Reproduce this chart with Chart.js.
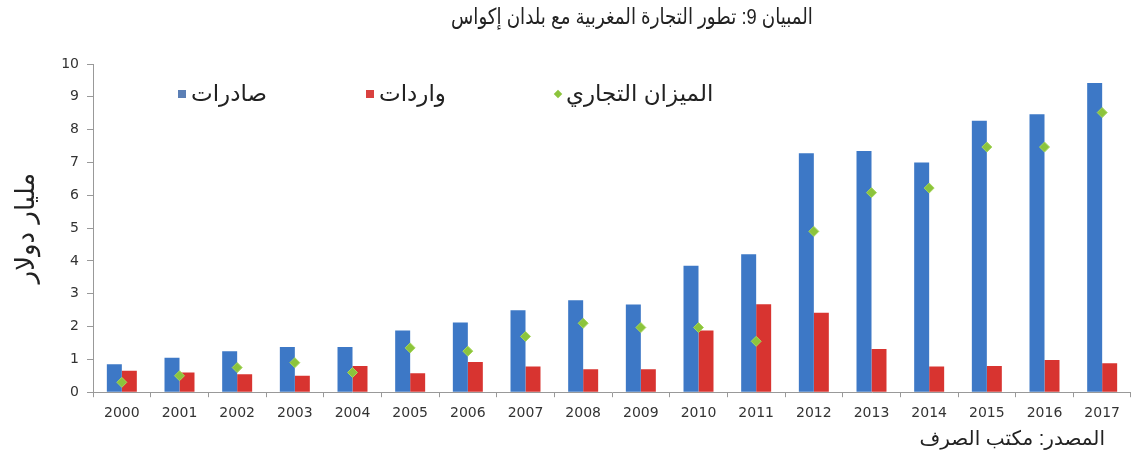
<!DOCTYPE html>
<html lang="ar">
<head>
<meta charset="utf-8">
<script src="https://cdn.jsdelivr.net/npm/chart.js@4.4.0/dist/chart.umd.min.js"></script>
<style>
  html, body { margin: 0; padding: 0; background: #fff; overflow: hidden; }
  #wrap { position: relative; width: 1131px; height: 464px; overflow: hidden; font-family: "Liberation Sans", "DejaVu Sans", sans-serif; }
  #chart { position: absolute; left: 0; top: 0; }
  .txt { position: absolute; white-space: nowrap; color: #222; direction: rtl; }
  #title { left: 632px; top: 4px; transform: translateX(-50%) scaleX(0.83); font-size: 22px; }
  #source { right: 26px; top: 426px; font-size: 20px; }
  .leg { top: 80px; font-size: 23px; display: flex; align-items: center; gap: 5px; }
  .sq { width: 8px; height: 8px; display: inline-block; }
  .dia { width: 6px; height: 6px; display: inline-block; transform: rotate(45deg); margin-left: 2px; }
</style>
</head>
<body>
<div id="wrap">
  <canvas id="chart" width="1137" height="464"></canvas>
  <div class="txt" id="title">المبيان 9: تطور التجارة المغربية مع بلدان إكواس</div>
  <div class="txt leg" id="leg-exp" style="left:178px"><span>صادرات</span><span class="sq" style="background:#5b7fb5"></span></div>
  <div class="txt leg" id="leg-imp" style="left:366px"><span>واردات</span><span class="sq" style="background:#d9413f"></span></div>
  <div class="txt leg" id="leg-bal" style="left:553px"><span>الميزان التجاري</span><span class="dia" style="background:#8cc43c"></span></div>
  <div class="txt" id="source">المصدر: مكتب الصرف</div>
</div>
<script>
const years = ['2000', '2001', '2002', '2003', '2004', '2005', '2006', '2007', '2008',
               '2009', '2010', '2011', '2012', '2013', '2014', '2015', '2016', '2017'];
const exportsVals = [0.85, 1.05, 1.25, 1.38, 1.38, 1.88, 2.12, 2.5, 2.8, 2.67, 3.85, 4.2, 7.28, 7.35, 7.0, 8.27, 8.47, 9.42];
const importsVals = [0.65, 0.6, 0.55, 0.5, 0.8, 0.58, 0.92, 0.78, 0.7, 0.7, 1.88, 2.68, 2.42, 1.32, 0.78, 0.8, 0.98, 0.88];
const balanceVals = [0.3, 0.5, 0.75, 0.9, 0.6, 1.35, 1.25, 1.7, 2.1, 1.97, 1.97, 1.55, 4.9, 6.08, 6.22, 7.47, 7.47, 8.52];
const yTicks = [0, 1, 2, 3, 4, 5, 6, 7, 8, 9, 10];

const labelExports = 'صادرات';
const labelImports = 'واردات';
const labelBalance = 'الميزان التجاري';
const yTitle = 'مليار دولار';

const ctx = document.getElementById('chart').getContext('2d');
new Chart(ctx, {
    type: 'bar',
    data: {
        labels: years,
        datasets: [{
            type: 'line',
            label: labelBalance,
            data: balanceVals,
            showLine: false,
            pointStyle: 'rectRot',
            pointRadius: 5,
            pointBackgroundColor: '#8cc43c',
            pointBorderColor: '#a6d65a',
            pointBorderWidth: 1,
            order: 0
        }, {
            label: labelExports,
            data: exportsVals,
            backgroundColor: '#3d78c6',
            categoryPercentage: 0.52,
            barPercentage: 1.0,
            order: 1
        }, {
            label: labelImports,
            data: importsVals,
            backgroundColor: '#d83430',
            categoryPercentage: 0.52,
            barPercentage: 1.0,
            order: 1
        }]
    },
    options: {
        responsive: false,
        animation: false,
        layout: { padding: { top: 64, right: 0, bottom: 34, left: 0 } },
        plugins: {
            legend: { display: false },
            tooltip: { enabled: false }
        },
        scales: {
            x: {
                offset: true,
                border: { color: '#999', width: 1 },
                grid: { offset: true, drawOnChartArea: false, tickLength: 5, color: '#999' },
                ticks: { color: '#333', font: { family: 'DejaVu Sans', size: 14 }, padding: 8, maxRotation: 0 }
            },
            y: {
                min: 0,
                max: 10,
                afterBuildTicks: (scale) => { scale.ticks = yTicks.map(v => ({ value: v })); },
                afterFit: (scale) => { scale.width = 93; },
                border: { color: '#999', width: 1 },
                grid: { drawOnChartArea: false, tickLength: 6, color: '#999' },
                ticks: { color: '#333', font: { family: 'DejaVu Sans', size: 14 }, padding: 8 },
                title: {
                    display: true,
                    text: yTitle,
                    color: '#222',
                    font: { family: 'DejaVu Sans', size: 26 },
                    padding: { top: 12, bottom: 0 }
                }
            }
        }
    }
});
</script>
</body>
</html>
